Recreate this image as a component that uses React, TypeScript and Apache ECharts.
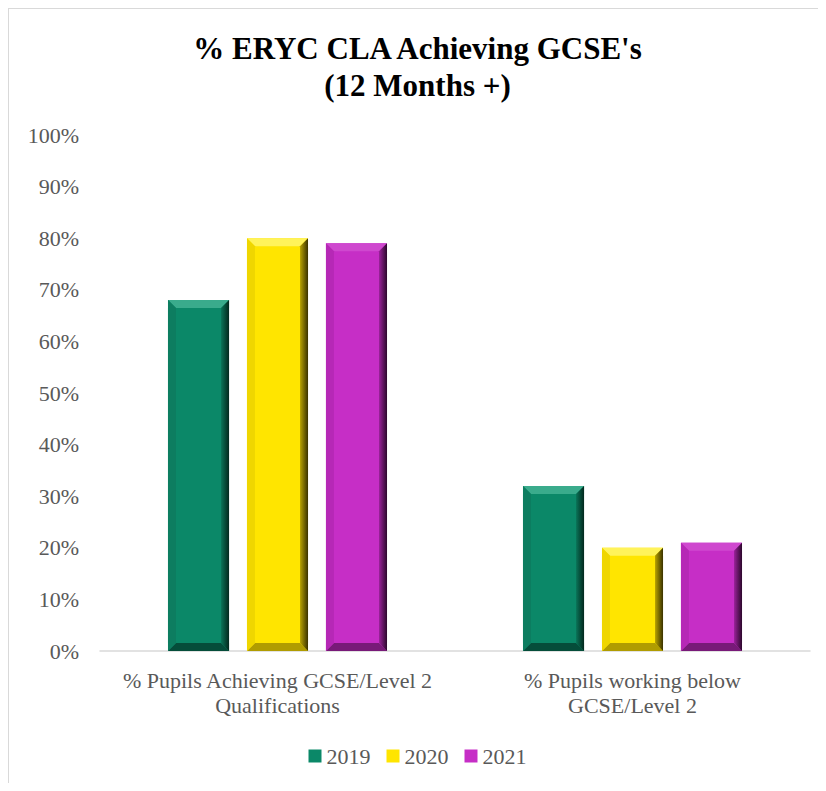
import React, { useEffect, useRef } from "react";
import * as echarts from "echarts";

const categories = ["% Pupils Achieving GCSE/Level 2\nQualifications", "% Pupils working below\nGCSE/Level 2"];
const seriesNames = ["2019", "2020", "2021"];
const values2019 = [68, 32];
const values2020 = [80, 20];
const values2021 = [79, 21];
const yTicks = [0, 10, 20, 30, 40, 50, 60, 70, 80, 90, 100];

const palettes = [
  { face: "#0b8868", top: "#3aab8c", left: "#0d7d60", rightA: "#0a7458", rightB: "#03281d", bottom: "#054d3a" },
  { face: "#ffe500", top: "#fff35a", left: "#efd600", rightA: "#b8a200", rightB: "#3a3200", bottom: "#b09c00" },
  { face: "#c62ec6", top: "#cf48cf", left: "#b628b6", rightA: "#9a229a", rightB: "#2c082c", bottom: "#781a78" },
];

export default function App() {
  const ref = useRef<HTMLDivElement>(null);
  useEffect(() => {
    if (!ref.current) return;
    const chart = echarts.init(ref.current, undefined, { renderer: "svg" });
    const all = [values2019, values2020, values2021];
    const font = "'Liberation Serif', 'DejaVu Serif', serif";
    const series = all.map((vals, sIdx) => {
      const p = palettes[sIdx];
      return {
        type: "custom",
        name: seriesNames[sIdx],
        itemStyle: { color: p.face },
        encode: { x: 0, y: 1 },
        data: vals.map((v, i) => [i, v]),
        renderItem: (params: any, api: any) => {
          const ci = api.value(0);
          const v = api.value(1);
          const top = api.coord([ci, v]);
          const base = api.coord([ci, 0]);
          const band = api.size([1, 0])[0];
          const w = band * 0.172;
          const step = band * 0.2225;
          const cx = top[0] + (sIdx - 1) * step;
          const x0 = cx - w / 2, x1 = cx + w / 2, y0 = top[1], y1 = base[1];
          const b = Math.min(8, (y1 - y0) / 2);
          return {
            type: "group",
            children: [
              { type: "rect", shape: { x: x0, y: y0, width: x1 - x0, height: y1 - y0 }, style: { fill: p.face } },
              { type: "polygon", shape: { points: [[x0, y0], [x1, y0], [x1 - b, y0 + b], [x0 + b, y0 + b]] }, style: { fill: p.top } },
              { type: "polygon", shape: { points: [[x0, y1], [x1, y1], [x1 - b, y1 - b], [x0 + b, y1 - b]] }, style: { fill: p.bottom } },
              { type: "polygon", shape: { points: [[x0, y0], [x0 + b, y0 + b], [x0 + b, y1 - b], [x0, y1]] }, style: { fill: p.left } },
              {
                type: "polygon",
                shape: { points: [[x1, y0], [x1 - b, y0 + b], [x1 - b, y1 - b], [x1, y1]] },
                style: {
                  fill: new echarts.graphic.LinearGradient(0, 0, 1, 0, [
                    { offset: 0, color: p.rightA },
                    { offset: 1, color: p.rightB },
                  ]),
                },
              },
            ],
          };
        },
      };
    });
    chart.setOption({
      animation: false,
      title: {
        text: "% ERYC CLA Achieving GCSE's\n(12 Months +)",
        left: "center",
        top: 16,
        textStyle: { fontFamily: font, fontWeight: "bold", fontSize: 31, color: "#000", lineHeight: 37 },
      },
      legend: {
        data: seriesNames.map((n, i) => ({ name: n, itemStyle: { color: palettes[i].face } })),
        bottom: 11,
        left: "center",
        icon: "rect",
        itemWidth: 13,
        itemHeight: 13,
        itemGap: 16,
        itemTextGap: 5,
        textStyle: { fontFamily: font, fontSize: 22, color: "#595959" },
      },
      grid: { left: 91, right: 16, top: 126, bottom: 132, containLabel: false },
      xAxis: {
        type: "category",
        data: categories,
        axisLine: { lineStyle: { color: "#d9d9d9", width: 1.5 } },
        axisTick: { show: false },
        axisLabel: { interval: 0, hideOverlap: false, fontFamily: font, fontSize: 22, color: "#595959", margin: 17, lineHeight: 25 },
      },
      yAxis: {
        type: "value",
        min: yTicks[0],
        max: yTicks[yTicks.length - 1],
        interval: 10,
        splitLine: { show: false },
        axisLine: { show: false },
        axisTick: { show: false },
        axisLabel: { fontFamily: font, fontSize: 22, color: "#595959", margin: 21, formatter: "{value}%" },
      },
      series,
    });
    return () => chart.dispose();
  }, []);
  return (
    <div style={{ width: 818, height: 775, borderLeft: "1px solid #d9d9d9", borderTop: "1px solid #d9d9d9", boxSizing: "border-box" }}>
      <div ref={ref} style={{ width: 817, height: 774 }} />
    </div>
  );
}
